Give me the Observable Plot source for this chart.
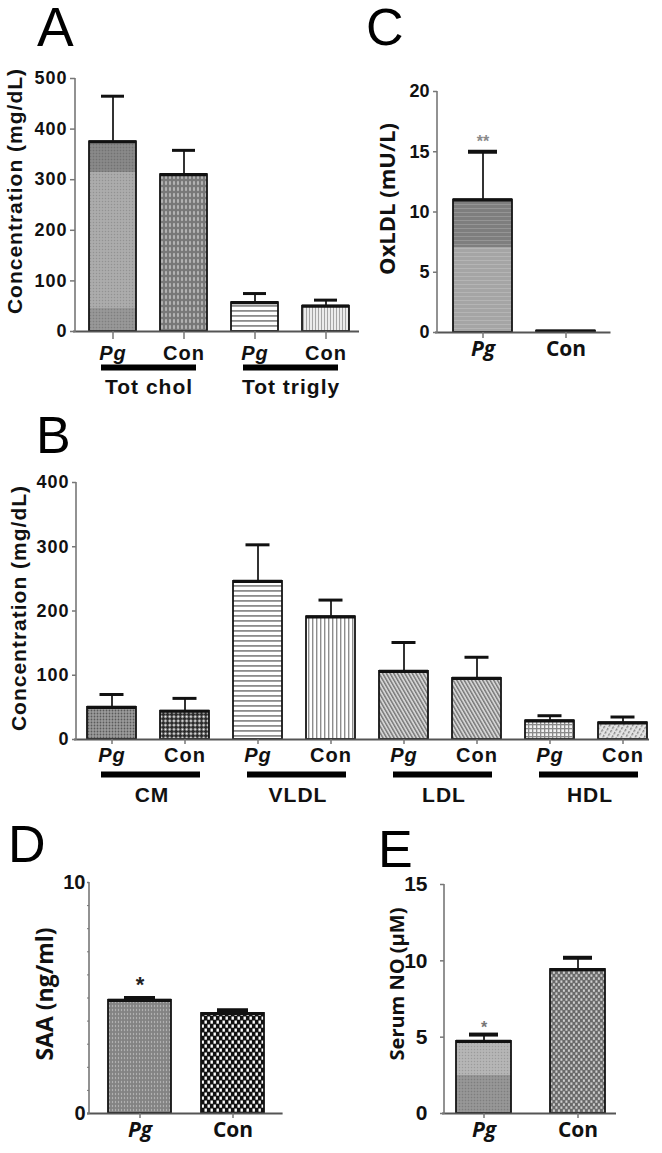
<!DOCTYPE html>
<html>
<head>
<meta charset="utf-8">
<script src="https://cdn.jsdelivr.net/npm/d3@7"></script>
<script src="https://cdn.jsdelivr.net/npm/@observablehq/plot@0.6"></script>
<style>
  html, body { margin: 0; padding: 0; background: #fff; }
  #fig { position: relative; width: 662px; height: 1153px; overflow: hidden; background: #fff; }
  .letter { position: absolute; font-family: "Liberation Sans", Arial, sans-serif; font-weight: normal; line-height: 1; color: #000; }
</style>
</head>
<body>
<div id="fig">
<svg width="0" height="0" style="position:absolute;left:0;top:0" aria-hidden="true">
  <defs>
    <linearGradient id="gA" x1="0" y1="0" x2="0" y2="1">
      <stop offset="0" stop-color="#838383"/><stop offset="0.16" stop-color="#838383"/>
      <stop offset="0.16" stop-color="#a8a8a8"/><stop offset="0.88" stop-color="#a8a8a8"/>
      <stop offset="0.88" stop-color="#929292"/><stop offset="1" stop-color="#929292"/>
    </linearGradient>
    <linearGradient id="gC" x1="0" y1="0" x2="0" y2="1">
      <stop offset="0" stop-color="#7e7e7e"/><stop offset="0.36" stop-color="#7e7e7e"/>
      <stop offset="0.36" stop-color="#a5a5a5"/><stop offset="1" stop-color="#a5a5a5"/>
    </linearGradient>
    <linearGradient id="gE" x1="0" y1="0" x2="0" y2="1">
      <stop offset="0" stop-color="#b2b2b2"/><stop offset="0.47" stop-color="#b2b2b2"/>
      <stop offset="0.47" stop-color="#919191"/><stop offset="1" stop-color="#919191"/>
    </linearGradient>
    <pattern id="pDots" width="3" height="3" patternUnits="userSpaceOnUse">
      <rect width="1" height="1" fill="rgba(0,0,0,0.13)"/>
      <rect x="1.5" y="1.5" width="1" height="1" fill="rgba(255,255,255,0.2)"/>
    </pattern>
    <pattern id="pHl" width="4" height="4" patternUnits="userSpaceOnUse">
      <rect width="4" height="1" fill="rgba(255,255,255,0.18)"/>
    </pattern>
    <pattern id="pAcon" width="4" height="6" patternUnits="userSpaceOnUse">
      <rect width="4" height="6" fill="#777"/>
      <ellipse cx="2" cy="3" rx="1.1" ry="2.2" fill="#b3b3b3"/>
    </pattern>
    <pattern id="pHs" width="5" height="5" patternUnits="userSpaceOnUse">
      <rect width="5" height="5" fill="#fff"/>
      <rect width="5" height="1.8" fill="#8c8c8c"/>
    </pattern>
    <pattern id="pVsL" width="3" height="3" patternUnits="userSpaceOnUse">
      <rect width="3" height="3" fill="#ececec"/>
      <rect width="1" height="3" fill="#a5a5a5"/>
    </pattern>
    <pattern id="pVs" width="4" height="4" patternUnits="userSpaceOnUse">
      <rect width="4" height="4" fill="#fff"/>
      <rect width="1.4" height="4" fill="#8d8d8d"/>
    </pattern>
    <pattern id="pCMpg" width="3" height="3" patternUnits="userSpaceOnUse">
      <rect width="3" height="3" fill="#9c9c9c"/>
      <circle cx="1.5" cy="1.5" r="0.9" fill="#5a5a5a"/>
    </pattern>
    <pattern id="pChk" width="6" height="6" patternUnits="userSpaceOnUse" patternTransform="rotate(45)">
      <rect width="6" height="6" fill="#2a2a2a"/>
      <rect x="0.4" y="0.4" width="2.2" height="2.2" fill="#fff"/>
      <rect x="3.4" y="3.4" width="2.2" height="2.2" fill="#fff"/>
    </pattern>
    <pattern id="pDiag" width="3.2" height="3.2" patternUnits="userSpaceOnUse" patternTransform="rotate(-30)">
      <rect width="3.2" height="3.2" fill="#d4d4d4"/>
      <rect width="1.4" height="3.2" fill="#777"/>
    </pattern>
    <pattern id="pGrid" width="4" height="4" patternUnits="userSpaceOnUse">
      <rect width="4" height="4" fill="#f2f2f2"/>
      <rect width="4" height="1.3" fill="#8a8a8a"/>
      <rect width="1.3" height="4" fill="#8a8a8a"/>
    </pattern>
    <pattern id="pDiag2" width="4" height="4" patternUnits="userSpaceOnUse" patternTransform="rotate(30)">
      <rect width="4" height="4" fill="#e4e4e4"/>
      <rect width="1.4" height="2.6" fill="#858585"/>
    </pattern>
    <pattern id="pDpg" width="3" height="4" patternUnits="userSpaceOnUse">
      <rect width="3" height="4" fill="#838383"/>
      <ellipse cx="1.5" cy="2" rx="0.7" ry="1.2" fill="#b0b0b0"/>
    </pattern>
    <pattern id="pDcon" width="6" height="8" patternUnits="userSpaceOnUse">
      <rect width="6" height="8" fill="#111"/>
      <rect x="0.5" y="0.5" width="2.4" height="3.2" fill="#fff"/>
      <rect x="3.5" y="4.5" width="2.4" height="3.2" fill="#fff"/>
    </pattern>
    <pattern id="pEcon" width="5" height="6" patternUnits="userSpaceOnUse">
      <rect width="5" height="6" fill="#6a6a6a"/>
      <rect x="0.4" y="0.4" width="2" height="2.4" fill="#cfcfcf"/>
      <rect x="2.9" y="3.4" width="2" height="2.4" fill="#cfcfcf"/>
    </pattern>
  </defs>
</svg>
<div class="letter" style="left:37px;top:0px;font-size:55px">A</div>
<div class="letter" style="left:366px;top:1px;font-size:52px">C</div>
<div class="letter" style="left:36px;top:409px;font-size:52px">B</div>
<div class="letter" style="left:8px;top:818px;font-size:52px">D</div>
<div class="letter" style="left:378px;top:823px;font-size:52px">E</div>
</div>
<script>
// ---------------- DATA ----------------
// Panel A: total cholesterol / triglycerides (mg/dL)
const A_groups = ["Tot chol", "Tot trigly"];
const A_treat = ["Pg", "Con"];
const A_mean = [375, 310, 57, 50];
const A_err = [465, 358, 75, 62];
const A_yTicks = [0, 100, 200, 300, 400, 500];

// Panel B: lipoprotein fractions (mg/dL)
const B_groups = ["CM", "VLDL", "LDL", "HDL"];
const B_treat = ["Pg", "Con"];
const B_mean = [50, 44, 246, 191, 106, 95, 29, 26];
const B_err = [70, 64, 303, 217, 151, 128, 37, 35];
const B_yTicks = [0, 100, 200, 300, 400];

// Panel C: OxLDL (mU/L)
const C_groups = [""];
const C_treat = ["Pg", "Con"];
const C_mean = [11, 0.12];
const C_err = [15, null];
const C_sig = ["**", ""];
const C_yTicks = [0, 5, 10, 15, 20];

// Panel D: SAA (ng/ml)
const D_groups = [""];
const D_treat = ["Pg", "Con"];
const D_mean = [4.9, 4.33];
const D_err = [5.0, 4.47];
const D_sig = ["*", ""];
const D_yTicks = [0, 10];
const D_minorTicks = [1, 2, 3, 4, 5, 6, 7, 8, 9];

// Panel E: Serum NO (µM)
const E_groups = [""];
const E_treat = ["Pg", "Con"];
const E_mean = [4.72, 9.43];
const E_err = [5.17, 10.2];
const E_sig = ["*", ""];
const E_yTicks = [0, 5, 10, 15];

// ---------------- STYLES ----------------
const NUM = "'Liberation Sans', Arial, sans-serif";
const OS = "'Open Sans', 'Liberation Sans', sans-serif";
const A_fill = ["url(#gA)", "url(#pAcon)", "url(#pHs)", "url(#pVsL)"];
const A_tex = ["url(#pDots)", "none", "none", "none"];
const B_fill = ["url(#pCMpg)", "url(#pChk)", "url(#pHs)", "url(#pVs)", "url(#pDiag)", "url(#pDiag)", "url(#pGrid)", "url(#pDiag2)"];
const B_tex = ["none", "none", "none", "none", "none", "none", "none", "none"];
const C_fill = ["url(#gC)", "#444"];
const C_tex = ["url(#pHl)", "none"];
const D_fill = ["url(#pDpg)", "url(#pDcon)"];
const D_tex = ["none", "none"];
const E_fill = ["url(#gE)", "url(#pEcon)"];
const E_tex = ["url(#pDots)", "none"];

function render(o) {
  const rows = [];
  o.groups.forEach((g, gi) => o.treat.forEach((t, ti) => {
    const i = gi * o.treat.length + ti;
    rows.push({key: g + "|" + t, group: g, treat: t, mean: o.mean[i], err: o.err[i],
      sig: o.sig ? o.sig[i] : "", base: o.fill[i], tex: o.tex[i]});
  }));
  const keys = rows.map(d => d.key);
  const withErr = rows.filter(d => d.err != null);
  const lab = k => k.split("|")[1];
  const marks = [
    Plot.barY(rows, {x: "key", y: "mean", fill: "base"}),
    Plot.barY(rows, {x: "key", y: "mean", fill: "tex", stroke: "#151515", strokeWidth: 1.8}),
    Plot.ruleX(withErr, {x: "key", y1: "mean", y2: "err", stroke: "#333", strokeWidth: 2}),
    Plot.tickY(withErr, {x: "key", y: "err", stroke: "#111", strokeWidth: o.capW, insetLeft: o.capInset, insetRight: o.capInset}),
    Plot.tickY(rows, {x: "key", y: "mean", stroke: "#111", strokeWidth: 3.2}),
    Plot.ruleY([0], {stroke: "#555", strokeWidth: 2, insetRight: o.baseInsetR || 0, insetLeft: -2}),
    Plot.axisY({ticks: o.yTicks, tickSize: o.yTickSize, tickPadding: o.yTickPad, fontSize: o.yFont,
      fontWeight: "bold", fontFamily: NUM, stroke: "#777", strokeWidth: 1.5, fill: "#111", label: null}),
    Plot.axisX({ticks: keys.filter(k => lab(k) === "Pg"), tickFormat: lab, fontStyle: "italic", fontWeight: "bold",
      fontSize: o.xFont, fontFamily: o.xFontFam, tickSize: o.xTickSize, tickPadding: o.xTickPad, stroke: "#777", strokeWidth: 1.5, fill: "#111", label: null}),
    Plot.axisX({ticks: keys.filter(k => lab(k) !== "Pg"), tickFormat: lab, fontWeight: "bold",
      fontSize: o.xFont, fontFamily: o.xFontFam, tickSize: o.xTickSize, tickPadding: o.xTickPad, stroke: "#777", strokeWidth: 1.5, fill: "#111", label: null}),
    Plot.text([o.title], {text: d => d, frameAnchor: "left", textAnchor: "middle", lineAnchor: "middle", rotate: -90, dx: o.tdx, dy: o.tdy,
      fontSize: o.tFont, fontWeight: "bold", fontFamily: o.tFontFam, fill: "#111"})
  ];
  if (o.minor) marks.push(Plot.axisY({ticks: o.minor, tickSize: 2, tickFormat: () => "", stroke: "#777", label: null}));
  if (o.sig) marks.push(Plot.text(rows.filter(d => d.sig), {x: "key", y: "err", text: "sig", dy: o.sigDy,
    fontSize: o.sigFont, fontWeight: "bold", fontFamily: NUM, fill: o.sigColor}));
  if (o.groupLabels) {
    const gr = o.groups.map(g => ({group: g, k1: g + "|" + o.treat[0], k2: g + "|" + o.treat[o.treat.length - 1]}));
    marks.push(Plot.ruleY(gr, {x1: "k1", x2: "k2", y: () => 0, dy: o.ulDy, stroke: "#000", strokeWidth: 6,
      insetLeft: o.ulL, insetRight: o.ulR}));
    marks.push(Plot.text(gr, {x: "k1", y: () => 0, text: "group", dx: o.glDx, dy: o.glDy,
      fontSize: o.glFont, fontWeight: "bold", fontFamily: NUM, fill: "#111"}));
  }
  const svg = Plot.plot({
    width: o.w, height: o.h,
    marginLeft: o.ml, marginTop: o.mt, marginRight: o.mr, marginBottom: o.mb,
    x: {type: "band", domain: keys, paddingInner: o.pi, paddingOuter: o.po},
    y: {domain: o.yDomain},
    color: {type: "identity"},
    style: {fontFamily: NUM, background: "transparent", overflow: "visible", letterSpacing: o.ls || "0px"},
    marks
  });
  // y-axis domain line, from the plot's own y scale
  const ys = svg.scale("y");
  d3.select(svg).append("line")
    .attr("x1", o.ml).attr("x2", o.ml)
    .attr("y1", ys.apply(o.yDomain[1])).attr("y2", ys.apply(0) + 1)
    .attr("stroke", "#777").attr("stroke-width", 1.6);
  svg.style.position = "absolute";
  svg.style.left = o.left + "px";
  svg.style.top = o.top + "px";
  document.getElementById("fig").appendChild(svg);
}

render({groups: A_groups, treat: A_treat, mean: A_mean, err: A_err, fill: A_fill, tex: A_tex,
  yDomain: [0, 500], yTicks: A_yTicks, title: "Concentration (mg/dL)",
  left: 0, top: 60, w: 370, h: 350, ml: 75, mt: 18, mr: 7, mb: 79, pi: 0.333, po: 0.167,
  capW: 3, capInset: 12, yTickSize: 5, yTickPad: 3, yFont: 18,
  xFont: 20, xFontFam: NUM, xTickSize: 8, xTickPad: 6, ls: "1px",
  tdx: -60, tdy: -14, tFont: 21, tFontFam: NUM,
  groupLabels: true, ulDy: 36, ulL: 12, ulR: 11, glDx: 36, glDy: 56, glFont: 21, baseInsetR: 4});

render({groups: B_groups, treat: B_treat, mean: B_mean, err: B_err, fill: B_fill, tex: B_tex,
  yDomain: [0, 400], yTicks: B_yTicks, title: "Concentration (mg/dL)",
  left: 0, top: 460, w: 662, h: 350, ml: 76, mt: 22, mr: 4, mb: 71, pi: 0.33, po: 0.15,
  capW: 3, capInset: 12.5, yTickSize: 4, yTickPad: 3, yFont: 18,
  xFont: 20, xFontFam: NUM, xTickSize: 5, xTickPad: 3, ls: "1px",
  tdx: -57, tdy: -3, tFont: 21, tFontFam: NUM,
  groupLabels: true, ulDy: 35, ulL: 14, ulR: 9, glDx: 40, glDy: 56, glFont: 21, baseInsetR: 9});

render({groups: C_groups, treat: C_treat, mean: C_mean, err: C_err, sig: C_sig, fill: C_fill, tex: C_tex,
  yDomain: [0, 20], yTicks: C_yTicks, title: "OxLDL (mU/L)",
  left: 340, top: 60, w: 322, h: 330, ml: 97, mt: 31, mr: 51.5, mb: 58, pi: 0.29, po: 0.19,
  capW: 4, capInset: 15, yTickSize: 4, yTickPad: 4, yFont: 18,
  xFont: 21, xFontFam: OS, xTickSize: 6, xTickPad: 3,
  tdx: -50, tdy: -13, tFont: 22, tFontFam: OS,
  sigDy: -10, sigFont: 16, sigColor: "#8a8a8a"});

render({groups: D_groups, treat: D_treat, mean: D_mean, err: D_err, sig: D_sig, fill: D_fill, tex: D_tex,
  yDomain: [0, 10], yTicks: D_yTicks, minor: D_minorTicks, title: "SAA (ng/ml)",
  left: 0, top: 860, w: 330, h: 293, ml: 89, mt: 22, mr: 47.4, mb: 40, pi: 0.32, po: 0.19,
  capW: 4, capInset: 16, yTickSize: 2, yTickPad: 2, yFont: 20,
  xFont: 21, xFontFam: OS, xTickSize: 5, xTickPad: 4,
  tdx: -44, tdy: -4, tFont: 23, tFontFam: OS,
  sigDy: -13, sigFont: 22, sigColor: "#222"});

render({groups: E_groups, treat: E_treat, mean: E_mean, err: E_err, sig: E_sig, fill: E_fill, tex: E_tex,
  yDomain: [0, 15], yTicks: E_yTicks, title: "Serum NO (μM)",
  left: 330, top: 860, w: 332, h: 293, ml: 114, mt: 24, mr: 46, mb: 40, pi: 0.42, po: 0.116,
  capW: 4, capInset: 13, yTickSize: 4, yTickPad: 13, yFont: 21,
  xFont: 21, xFontFam: OS, xTickSize: 5, xTickPad: 4,
  tdx: -47, tdy: -15, tFont: 20, tFontFam: OS,
  sigDy: -7, sigFont: 16, sigColor: "#777"});
</script>
</body>
</html>
